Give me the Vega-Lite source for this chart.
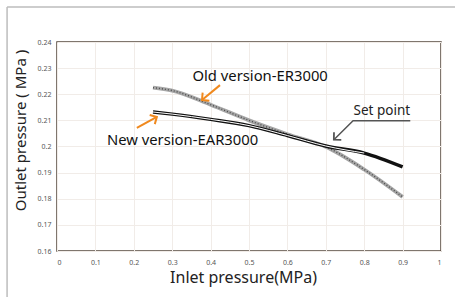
{
  "$schema": "https://vega.github.io/schema/vega-lite/v6.json",
  "width": 384,
  "height": 209,
  "autosize": "none",
  "padding": {"left": 57, "top": 42, "right": 14, "bottom": 46},
  "background": "white",
  "config": {
    "view": {"stroke": "#55493f", "strokeWidth": 1.5},
    "font": "Noto Sans",
    "axis": {
      "labelFont": "Noto Sans",
      "titleFont": "Noto Sans",
      "labelFontSize": 7,
      "labelColor": "#555",
      "titleFontSize": 15,
      "titleFontWeight": "normal",
      "titleColor": "#222",
      "ticks": false,
      "domain": false,
      "gridColor": "#f1ece8",
      "gridWidth": 1
    }
  },
  "datasets": {
    "curves": [
      {"version": "Old", "inlet": 0.25, "outlet": 0.2225},
      {"version": "Old", "inlet": 0.3, "outlet": 0.2214},
      {"version": "Old", "inlet": 0.4, "outlet": 0.216},
      {"version": "Old", "inlet": 0.5, "outlet": 0.21},
      {"version": "Old", "inlet": 0.6, "outlet": 0.2047},
      {"version": "Old", "inlet": 0.7, "outlet": 0.1999},
      {"version": "Old", "inlet": 0.8, "outlet": 0.1912},
      {"version": "Old", "inlet": 0.9, "outlet": 0.1807},
      {"version": "New", "inlet": 0.25, "outlet": 0.2132},
      {"version": "New", "inlet": 0.3, "outlet": 0.2124},
      {"version": "New", "inlet": 0.4, "outlet": 0.2104},
      {"version": "New", "inlet": 0.5, "outlet": 0.208},
      {"version": "New", "inlet": 0.6, "outlet": 0.2042},
      {"version": "New", "inlet": 0.7, "outlet": 0.2002},
      {"version": "New", "inlet": 0.8, "outlet": 0.1975},
      {"version": "New", "inlet": 0.9, "outlet": 0.1922}
    ],
    "labels": [
      {"text": "Old version-ER3000", "x": 0.529, "y": 0.2266},
      {"text": "New version-EAR3000", "x": 0.327, "y": 0.2021},
      {"text": "Set point", "x": 0.846, "y": 0.2136}
    ],
    "arrows": [
      {"kind": "old", "x": 0.4245, "y": 0.2235, "x2": 0.3776, "y2": 0.2178},
      {"kind": "new", "x": 0.208, "y": 0.2071, "x2": 0.26, "y2": 0.2113}
    ],
    "setpath": [
      {"step": 1, "px": 0.92, "py": 0.2099},
      {"step": 2, "px": 0.771, "py": 0.2099},
      {"step": 3, "px": 0.721, "py": 0.2026}
    ],
    "frame": [
      {"x": -0.13, "x2": 1.3, "y": 0.2534, "y2": 0.2534},
      {"x": -0.13, "x2": -0.13, "y": 0.2534, "y2": 0.12}
    ]
  },
  "encoding": {
    "x": {
      "field": "inlet",
      "type": "quantitative",
      "scale": {"domain": [0, 1], "nice": false},
      "axis": {"values": [0, 0.1, 0.2, 0.3, 0.4, 0.5, 0.6, 0.7, 0.8, 0.9, 1], "format": "~g", "title": "Inlet pressure(MPa)", "titleFontSize": 16, "labelPadding": 7, "titlePadding": 4, "titleX": 186, "grid": true}
    },
    "y": {
      "field": "outlet",
      "type": "quantitative",
      "scale": {"domain": [0.16, 0.24], "nice": false, "zero": false},
      "axis": {"values": [0.16, 0.17, 0.18, 0.19, 0.2, 0.21, 0.22, 0.23, 0.24], "format": "~g", "title": "Outlet pressure ( MPa )", "labelPadding": 6, "titlePadding": 9, "titleY": 88, "grid": true}
    }
  },
  "layer": [
    {
      "data": {"name": "frame"},
      "mark": {"type": "rule", "stroke": "#bdbdbd", "strokeWidth": 1.5, "clip": false},
      "encoding": {
        "x": {"field": "x", "type": "quantitative", "scale": {"domain": [0, 1], "nice": false}},
        "x2": {"field": "x2"},
        "y": {"field": "y", "type": "quantitative", "scale": {"domain": [0.16, 0.24], "nice": false, "zero": false}},
        "y2": {"field": "y2"}
      }
    },
    {
      "data": {"name": "curves"},
      "transform": [{"filter": "datum.version === 'Old'"}],
      "mark": {"type": "line", "color": "#a6a6a6", "strokeWidth": 3.8, "interpolate": "monotone"},
      "encoding": {}
    },
    {
      "data": {"name": "curves"},
      "transform": [{"filter": "datum.version === 'Old'"}],
      "mark": {"type": "line", "color": "#4d4d4d", "strokeWidth": 1.4, "strokeDash": [1, 2], "interpolate": "monotone"},
      "encoding": {}
    },
    {
      "data": {"name": "curves"},
      "transform": [{"filter": "datum.version === 'New'"}],
      "mark": {"type": "line", "color": "#111111", "strokeWidth": 3.4, "interpolate": "monotone"},
      "encoding": {}
    },
    {
      "data": {"name": "curves"},
      "transform": [{"filter": "datum.version === 'New' && datum.inlet <= 0.8"}],
      "mark": {"type": "line", "color": "#ffffff", "strokeWidth": 1, "interpolate": "monotone"},
      "encoding": {}
    },
    {
      "data": {"name": "arrows"},
      "mark": {"type": "rule", "color": "#f0891e", "strokeWidth": 2},
      "encoding": {
        "x": {"field": "x", "type": "quantitative", "scale": {"domain": [0, 1], "nice": false}},
        "y": {"field": "y", "type": "quantitative", "scale": {"domain": [0.16, 0.24], "nice": false, "zero": false}},
        "x2": {"field": "x2"},
        "y2": {"field": "y2"}
      }
    },
    {
      "data": {"name": "setpath"},
      "mark": {"type": "line", "color": "#555555", "strokeWidth": 1.5},
      "encoding": {
        "x": {"field": "px", "type": "quantitative", "scale": {"domain": [0, 1], "nice": false}},
        "y": {"field": "py", "type": "quantitative", "scale": {"domain": [0.16, 0.24], "nice": false, "zero": false}},
        "order": {"field": "step", "type": "quantitative"}
      }
    },
    {
      "data": {"name": "arrows"},
      "transform": [{"filter": "datum.kind === 'old'"}],
      "mark": {"type": "point", "shape": "M-1,1L0,0L1,1", "size": 110, "filled": false, "stroke": "#f0891e", "strokeWidth": 2, "opacity": 1, "angle": 230},
      "encoding": {
        "x": {"field": "x2", "type": "quantitative", "scale": {"domain": [0, 1], "nice": false}},
        "y": {"field": "y2", "type": "quantitative", "scale": {"domain": [0.16, 0.24], "nice": false, "zero": false}}
      }
    },
    {
      "data": {"name": "arrows"},
      "transform": [{"filter": "datum.kind === 'new'"}],
      "mark": {"type": "point", "shape": "M-1,1L0,0L1,1", "size": 110, "filled": false, "stroke": "#f0891e", "strokeWidth": 2, "opacity": 1, "angle": 61},
      "encoding": {
        "x": {"field": "x2", "type": "quantitative", "scale": {"domain": [0, 1], "nice": false}},
        "y": {"field": "y2", "type": "quantitative", "scale": {"domain": [0.16, 0.24], "nice": false, "zero": false}}
      }
    },
    {
      "data": {"name": "setpath"},
      "transform": [{"filter": "datum.step === 3"}],
      "mark": {"type": "point", "shape": "M-1,1L0,0L1,1", "size": 110, "filled": false, "stroke": "#555555", "strokeWidth": 1.8, "opacity": 1, "angle": 226},
      "encoding": {
        "x": {"field": "px", "type": "quantitative", "scale": {"domain": [0, 1], "nice": false}},
        "y": {"field": "py", "type": "quantitative", "scale": {"domain": [0.16, 0.24], "nice": false, "zero": false}}
      }
    },
    {
      "data": {"name": "labels"},
      "transform": [{"filter": "datum.text !== 'Set point'"}],
      "mark": {"type": "text", "font": "Noto Sans", "fontSize": 14.8, "color": "#111111", "align": "center", "baseline": "middle"},
      "encoding": {
        "x": {"field": "x", "type": "quantitative", "scale": {"domain": [0, 1], "nice": false}},
        "y": {"field": "y", "type": "quantitative", "scale": {"domain": [0.16, 0.24], "nice": false, "zero": false}},
        "text": {"field": "text"}
      }
    },
    {
      "data": {"name": "labels"},
      "transform": [{"filter": "datum.text === 'Set point'"}],
      "mark": {"type": "text", "font": "Noto Sans", "fontSize": 13.5, "color": "#222222", "align": "center", "baseline": "middle"},
      "encoding": {
        "x": {"field": "x", "type": "quantitative", "scale": {"domain": [0, 1], "nice": false}},
        "y": {"field": "y", "type": "quantitative", "scale": {"domain": [0.16, 0.24], "nice": false, "zero": false}},
        "text": {"field": "text"}
      }
    }
  ]
}
